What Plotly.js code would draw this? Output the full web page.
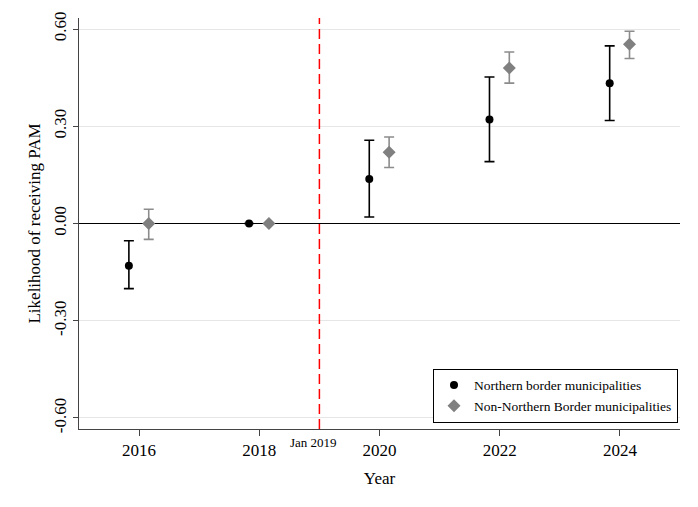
<!DOCTYPE html>
<html>
<head>
<meta charset="utf-8">
<script src="https://cdn.plot.ly/plotly-3.0.1.min.js"></script>
<style>html,body{margin:0;padding:0;background:#fff}#chart{width:698px;height:507px}</style>
</head>
<body>
<div id="chart"></div>
<script>
// Data
var years = [2016, 2018, 2020, 2022, 2024];
var northEst = [-0.130, 0.000, 0.137, 0.321, 0.433];
var northLo  = [-0.201, 0.000, 0.020, 0.191, 0.318];
var northHi  = [-0.053, 0.000, 0.257, 0.452, 0.548];
var nonEst   = [0.000, 0.000, 0.220, 0.480, 0.553];
var nonLo    = [-0.049, 0.000, 0.173, 0.433, 0.509];
var nonHi    = [0.044, 0.000, 0.267, 0.529, 0.593];
var yTickVals = [-0.6, -0.3, 0, 0.3, 0.6];
var yTickText = ["-0.60", "-0.30", "0.00", "0.30", "0.60"];
var xTickVals = [2016, 2018, 2020, 2022, 2024];
var seriesNames = ["Northern border municipalities", "Non-Northern Border municipalities"];
var eventYear = 2019;
var eventLabel = "Jan 2019";

var FONT = "Liberation Serif, Times New Roman, serif";
var shiftN = -0.17, shiftS = 0.16;

function up(est, hi){ return est.map(function(v,i){ return hi[i]-v; }); }
function dn(est, lo){ return est.map(function(v,i){ return v-lo[i]; }); }

var traces = [
  {
    type: 'scatter', mode: 'markers', name: seriesNames[0],
    x: years.map(function(y){ return y + shiftN; }), y: northEst,
    marker: {symbol: 'circle', size: 8, color: '#000000'},
    error_y: {type: 'data', symmetric: false, array: up(northEst, northHi), arrayminus: dn(northEst, northLo),
              color: '#000000', thickness: 1.6, width: 5}
  },
  {
    type: 'scatter', mode: 'markers', name: seriesNames[1],
    x: years.map(function(y){ return y + shiftS; }), y: nonEst,
    marker: {symbol: 'diamond', size: 10, color: '#808080'},
    error_y: {type: 'data', symmetric: false, array: up(nonEst, nonHi), arrayminus: dn(nonEst, nonLo),
              color: '#8c8c8c', thickness: 1.6, width: 5}
  }
];

var layout = {
  width: 698, height: 507,
  margin: {l: 79, r: 18, t: 18, b: 78},
  paper_bgcolor: '#ffffff', plot_bgcolor: '#ffffff',
  font: {family: FONT, color: '#000000', size: 17},
  showlegend: true,
  legend: {
    x: 0.589, y: 0.015, xanchor: 'left', yanchor: 'bottom',
    bordercolor: '#000000', borderwidth: 1, bgcolor: '#ffffff',
    font: {family: FONT, size: 13.5, color: '#000000'}
  },
  xaxis: {
    range: [2015, 2025], tickvals: xTickVals, ticktext: xTickVals.map(String),
    showgrid: false, zeroline: false, showline: true, linecolor: '#444444', linewidth: 1,
    ticks: 'outside', ticklen: 6, tickcolor: '#444444',
    tickfont: {family: FONT, size: 17},
    title: {text: 'Year', font: {family: FONT, size: 17}, standoff: 12},
    automargin: false
  },
  yaxis: {
    range: [-0.634, 0.634], tickvals: yTickVals, ticktext: yTickText, tickangle: -90,
    showgrid: true, gridcolor: '#e6e6e6', gridwidth: 1,
    zeroline: true, zerolinecolor: '#000000', zerolinewidth: 1,
    showline: true, linecolor: '#444444', linewidth: 1,
    ticks: 'outside', ticklen: 5, tickcolor: '#444444',
    tickfont: {family: FONT, size: 17},
    title: {text: 'Likelihood of receiving PAM', font: {family: FONT, size: 17}, standoff: 6},
    automargin: false
  },
  shapes: [{
    type: 'line', xref: 'x', yref: 'paper', x0: eventYear, x1: eventYear, y0: 0, y1: 1,
    line: {color: '#ff0000', width: 1.5, dash: '10px,5px'}
  }],
  annotations: [{
    xref: 'x', yref: 'paper', x: eventYear, y: 0, xanchor: 'center', yanchor: 'top',
    yshift: -4, xshift: -6, showarrow: false, text: eventLabel,
    font: {family: FONT, size: 13, color: '#000000'}
  }]
};

Plotly.newPlot('chart', traces, layout, {displayModeBar: false, staticPlot: true});
</script>
</body>
</html>
